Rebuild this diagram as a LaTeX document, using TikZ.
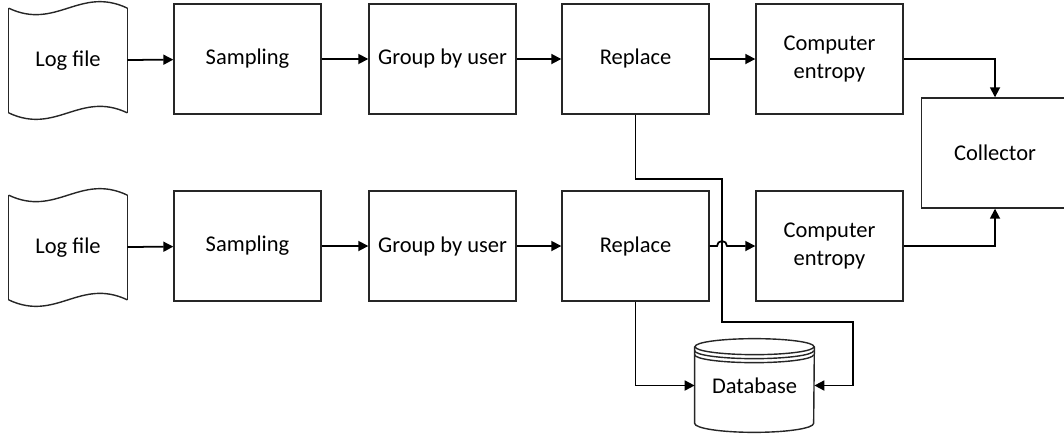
\documentclass[tikz,border=0pt]{standalone}
\usepackage{fontspec}
\setmainfont{Carlito}
\usetikzlibrary{calc,arrows.meta}
\tikzset{
	stage/.style={draw=black!85, line width=0.8pt, minimum width=2.94cm, minimum height=2.2cm, align=center, font=\fontsize{12.8}{16}\selectfont},
	logshape/.style={minimum width=2.36cm, minimum height=2.08cm, font=\fontsize{12.8}{16}\selectfont},
	dbshape/.style={minimum width=2.38cm, minimum height=1.86cm, font=\fontsize{12.8}{16}\selectfont},
	flow/.style={line width=1pt, -{Triangle[length=0.2cm,width=0.2cm]}}
}
\def\wavyedge(#1)(#2){\draw[draw=black!85, line width=0.8pt] (#1) .. controls ($(#1)!0.4!(#2)+(0,-0.45)$) and ($(#1)!0.6!(#2)+(0,0.45)$) .. (#2);}

\begin{document}
\begin{tikzpicture}
		%%%%% START %%%%%
		\useasboundingbox (0, 0) rectangle (21.28, 8.68);
		
		% upper row
		\node[logshape] (logA) at (1.36, 7.47) {Log file};
		\node[stage] (sampA) at (4.95, 7.50) {Sampling};
		\node[stage] (groupA) at (8.85, 7.50) {Group by user};
		\node[stage] (replA) at (12.71, 7.50) {Replace};
		\node[stage] (entA) at (16.59, 7.50) {Computer\\entropy};
		
		% lower row
		\node[logshape] (logB) at (1.36, 3.73) {Log file};
		\node[stage] (sampB) at (4.95, 3.76) {Sampling};
		\node[stage] (groupB) at (8.85, 3.76) {Group by user};
		\node[stage] (replB) at (12.71, 3.76) {Replace};
		\node[stage] (entB) at (16.59, 3.76) {Computer\\entropy};
		
		\node[stage] (coll) at (19.9, 5.62) {Collector};
		\node[dbshape] (db) at (15.09, 0.97) {Database};
		
		% log file outlines
		\foreach \lg in {logA, logB} {
			\wavyedge(\lg.north west)(\lg.north east);
			\wavyedge(\lg.south west)(\lg.south east);
			\draw[draw=black!85, line width=0.8pt] (\lg.north west) -- (\lg.south west);
			\draw[draw=black!85, line width=0.8pt] (\lg.north east) -- (\lg.south east);
		}
		
		% database outline
		\draw[draw=black!85, line width=0.8pt] ($(db.north)+(0,-0.16)$) ellipse [x radius=1.19, y radius=0.16];
		\draw[draw=black!85, line width=0.8pt] ($(db.north west)+(0,-0.24)$) arc [start angle=180, end angle=360, x radius=1.19, y radius=0.16];
		\draw[draw=black!85, line width=0.8pt] ($(db.north west)+(0,-0.32)$) arc [start angle=180, end angle=360, x radius=1.19, y radius=0.16];
		\draw[draw=black!85, line width=0.8pt] ($(db.north west)+(0,-0.16)$) -- ($(db.south west)+(0,0.18)$) arc [start angle=180, end angle=360, x radius=1.19, y radius=0.18] -- ($(db.north east)+(0,-0.16)$);
		
		% straight links
		\draw[flow] (logA) -- (sampA);
		\draw[flow] (sampA) -- (groupA);
		\draw[flow] (groupA) -- (replA);
		\draw[flow] (replA) -- (entA);
		\draw[flow] (logB) -- (sampB);
		\draw[flow] (sampB) -- (groupB);
		\draw[flow] (groupB) -- (replB);
		
		\draw[flow] (entA.east) -| (coll.north);
		\draw[flow] (entB.east) -| (coll.south);
		
		% link to the database, jumping the lower row
		\coordinate (bendA) at (14.44, 5.10);
		\coordinate (bendB) at (17.06, 2.24);
		\coordinate (hop) at (bendA |- replB.east);
		\draw[flow] (replB.east) -- ($(hop)+(-0.1, 0)$) arc [start angle=180, end angle=0, radius=0.1] -- (entB.west);
		\draw[flow] (replA.south) |- (bendA) -- (bendA |- bendB) -- (bendB) |- (db.east);
		\draw[flow] (replB.south) |- (db.west);
		
		%%%%% END %%%%%
	\end{tikzpicture}
\end{document}
